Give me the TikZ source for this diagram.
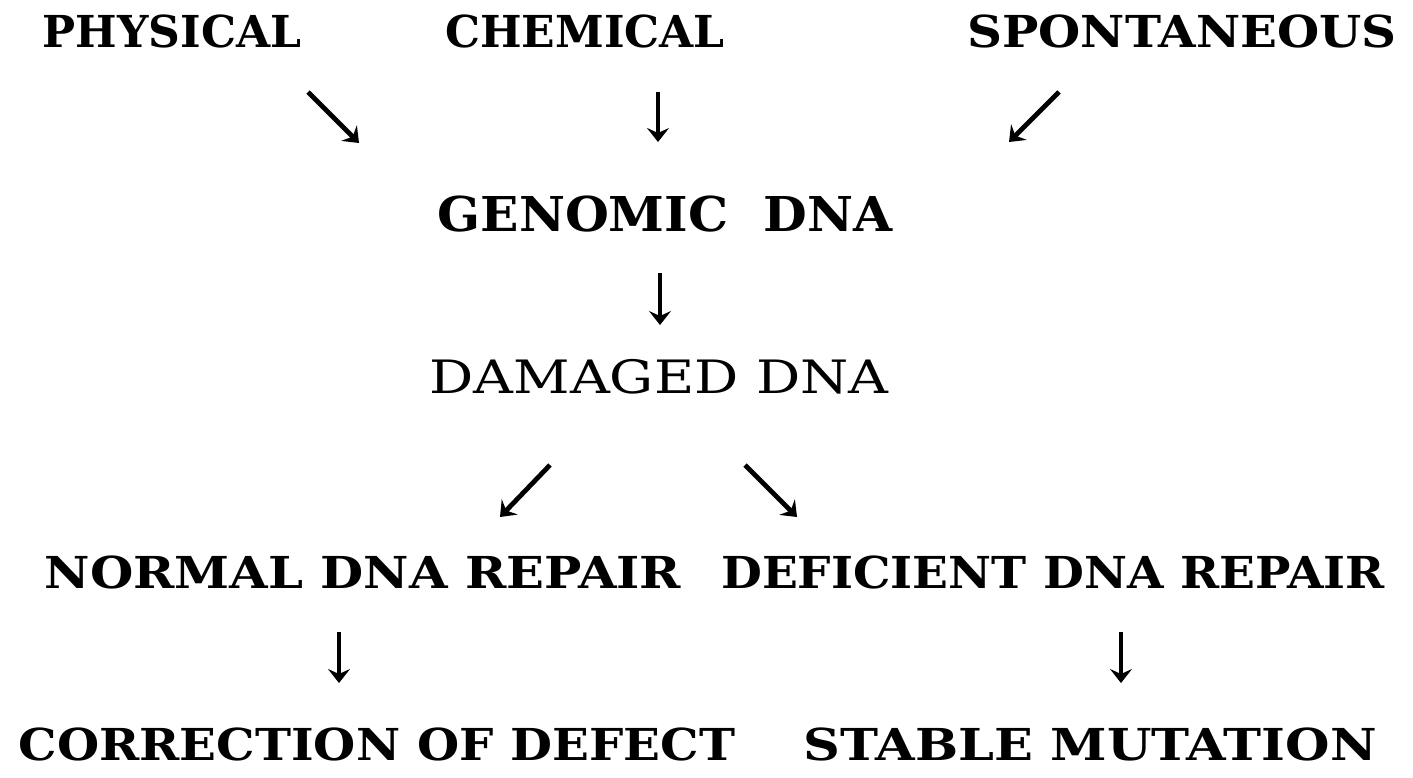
\documentclass[tikz,border=0pt]{standalone}
\usepackage{graphicx}
\usepackage{fontspec}
\setmainfont{DejaVu Serif}
\usetikzlibrary{arrows.meta}

% wider set, as in the printed figure
\newcommand{\hstretch}[2]{\scalebox{#1}[1]{#2}}

\begin{document}
\begin{tikzpicture}[
    x=0.5pt, y=-0.5pt,
    stage/.style={inner sep=0pt, anchor=base, font=\fontsize{22}{26}\selectfont\bfseries},
    bigstage/.style={stage, font=\fontsize{24}{28}\selectfont\bfseries},
    plainstage/.style={stage, font=\fontsize{23}{27}\selectfont},
    arrow/.style={-{Stealth[length=7pt,width=11pt,inset=2.5pt]}, line width=2.4pt}
  ]
    \useasboundingbox (0,0) rectangle (1413,777);

    \node[stage] (physical) at (172,47) {PHYSICAL};
    \node[stage] (chemical) at (585,47) {CHEMICAL};
    \node[stage] (spontaneous) at (1182,47) {\hstretch{1.1}{SPONTANEOUS}};

    \node[bigstage] (genomic) at (665,231) {\hstretch{1.05}{GENOMIC~~DNA}};
    \node[plainstage] (damaged) at (659,393) {\hstretch{1.2}{DAMAGED DNA}};

    \node[stage] (normal) at (363,588) {\hstretch{1.13}{NORMAL DNA REPAIR}};
    \node[stage] (deficient) at (1053,588) {\hstretch{1.07}{DEFICIENT DNA REPAIR}};

    \node[stage] (correction) at (377,760) {\hstretch{1.1}{CORRECTION OF DEFECT}};
    \node[stage] (stable) at (1090,760) {\hstretch{1.16}{STABLE MUTATION}};

    \draw[arrow] ([shift={(136,45)}]physical.base) -- ([shift={(-306,-88)}]genomic.base);
    \draw[arrow] ([shift={(73,45)}]chemical.base) -- ([shift={(-7,-89)}]genomic.base);
    \draw[arrow] ([shift={(-123,45)}]spontaneous.base) -- ([shift={(344,-89)}]genomic.base);
    \draw[arrow] ([shift={(-5,42)}]genomic.base) -- ([shift={(1,-68)}]damaged.base);
    \draw[arrow] ([shift={(-109,72)}]damaged.base) -- ([shift={(137,-71)}]normal.base);
    \draw[arrow] ([shift={(86,72)}]damaged.base) -- ([shift={(-256,-71)}]deficient.base);
    \draw[arrow] ([shift={(-24,44)}]normal.base) -- ([shift={(-38,-77)}]correction.base);
    \draw[arrow] ([shift={(68,44)}]deficient.base) -- ([shift={(31,-77)}]stable.base);
\end{tikzpicture}
\end{document}
